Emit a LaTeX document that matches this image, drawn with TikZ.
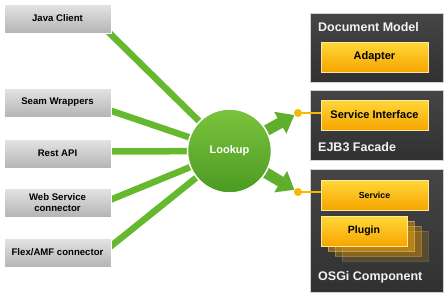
\documentclass[tikz,border=0pt]{standalone}
\usepackage{fontspec}
\setmainfont{Liberation Sans}
\usetikzlibrary{arrows.meta,shadows,backgrounds}

\definecolor{clientTop}{HTML}{E4E4E4}
\definecolor{clientBot}{HTML}{B4B4B4}
\definecolor{darkTop}{HTML}{454545}
\definecolor{darkBot}{HTML}{313131}
\definecolor{partTop}{HTML}{FFD83A}
\definecolor{partBot}{HTML}{F6A500}
\definecolor{partEdge}{HTML}{FFE9A0}
\definecolor{wireGreen}{HTML}{66B92E}
\definecolor{hubTop}{HTML}{7CC43E}
\definecolor{hubBot}{HTML}{4B9A22}
\definecolor{arrowGreen}{HTML}{5FAE2C}
\definecolor{plugYellow}{HTML}{F7B600}
\definecolor{titleGray}{HTML}{F2F2F2}

\tikzset{
  client/.style={rectangle, minimum width=107pt, minimum height=29pt,
    inner sep=0pt, align=center, top color=clientTop, bottom color=clientBot,
    draw=white, line width=0.8pt,
    drop shadow={opacity=0.25, shadow xshift=0.6pt, shadow yshift=-0.8pt},
    font=\bfseries\fontsize{9.6}{10.5}\selectfont},
  container/.style={rectangle, inner sep=0pt, top color=darkTop,
    bottom color=darkBot, draw=black!18, line width=0.8pt,
    drop shadow={opacity=0.3, shadow xshift=0.8pt, shadow yshift=-1pt}},
  title/.style={anchor=west, inner sep=0pt, text=titleGray,
    font=\bfseries\fontsize{12.5}{14}\selectfont},
  part/.style={rectangle, minimum height=30pt, inner sep=0pt,
    top color=partTop, bottom color=partBot, draw=partEdge, line width=0.8pt,
    font=\bfseries\fontsize{11}{12}\selectfont},
  ghost/.style={rectangle, minimum width=86pt, minimum height=30pt,
    inner sep=0pt, fill=partBot, draw=partEdge, line width=0.6pt},
  hub/.style={circle, minimum size=84pt, inner sep=0pt, top color=hubTop,
    bottom color=hubBot, draw=white, line width=1.5pt,
    drop shadow={opacity=0.2, shadow xshift=0.5pt, shadow yshift=-0.8pt},
    text=white, font=\bfseries\fontsize{11}{12}\selectfont},
  wire/.style={draw=wireGreen, line width=6.5pt},
  fat/.style={draw=arrowGreen, line width=11pt,
    -{Triangle[width=24pt,length=16pt]}},
  plug/.style={circle, minimum size=8pt, inner sep=0pt, fill=plugYellow},
  plugline/.style={draw=plugYellow, line width=2.5pt}
}

\begin{document}
\begin{tikzpicture}[x=1pt, y=-1pt]
  \useasboundingbox (0,0) rectangle (448,298);

  % clients on the left
  \node[client] (java) at (57.5,18.5) {Java Client};
  \node[client] (seam) at (57.5,102.5) {Seam Wrappers};
  \node[client] (rest) at (57.5,153.5) {Rest API};
  \node[client] (ws)   at (57.5,202.5) {Web Service\\connector};
  \node[client] (flex) at (57.5,252.5) {Flex/AMF connector};

  % central lookup
  \node[hub] (lookup) at (229.5,151) {Lookup};

  % component containers on the right
  \node[container, minimum width=133pt, minimum height=69pt] (docm) at (376.5,47.5) {};
  \node[title] (doct) at (318,27) {Document Model};
  \node[part, minimum width=107pt] (adapter) at (374.5,57) {Adapter};

  \node[container, minimum width=133pt, minimum height=70pt] (ejb) at (376.5,125) {};
  \node[part, minimum width=107pt] (sint) at (374.5,115) {Service Interface};
  \node[title] (ejbt) at (318,147) {EJB3 Facade};

  \node[container, minimum width=133pt, minimum height=123pt] (osgi) at (376.5,230.5) {};
  \node[part, minimum width=107pt, font=\bfseries\fontsize{8.8}{10}\selectfont] (svc) at (374.5,195) {Service};
  % stacked plugin instances behind the front one
  \node[ghost, opacity=0.18] (g4) at (385,246) {};
  \node[ghost, opacity=0.3] (g3) at (378,241) {};
  \node[ghost, opacity=0.45] (g2) at (371,236) {};
  \node[part, minimum width=86pt, font=\bfseries\fontsize{10.5}{12}\selectfont] (plugin) at (364,231) {Plugin};
  \node[title] (osgit) at (318,277) {OSGi Component};

  % plug points in front of the provided interfaces
  \node[plug] (p1) at (298,113) {};
  \node[plug] (p2) at (298,192) {};
  \draw[plugline] (p1) -- (sint.west |- p1);
  \draw[plugline] (p2) -- (svc.west |- p2);

  \begin{scope}[on background layer]
    \draw[wire] ([xshift=-4pt,yshift=-12.5pt]java.east) -- (lookup.center);
    \draw[wire] ([xshift=-4pt,yshift=-7pt]seam.east) -- (lookup.center);
    \draw[wire] ([xshift=-4pt,yshift=2pt]rest.east) -- (lookup.center);
    \draw[wire] ([xshift=-4pt,yshift=1.5pt]ws.east) -- (lookup.center);
    \draw[wire] ([xshift=-4pt,yshift=3.5pt]flex.east) -- (lookup.center);
    \draw[fat] (lookup.center) -- (p1);
    \draw[fat] (lookup.center) -- (p2);
  \end{scope}
\end{tikzpicture}
\end{document}
